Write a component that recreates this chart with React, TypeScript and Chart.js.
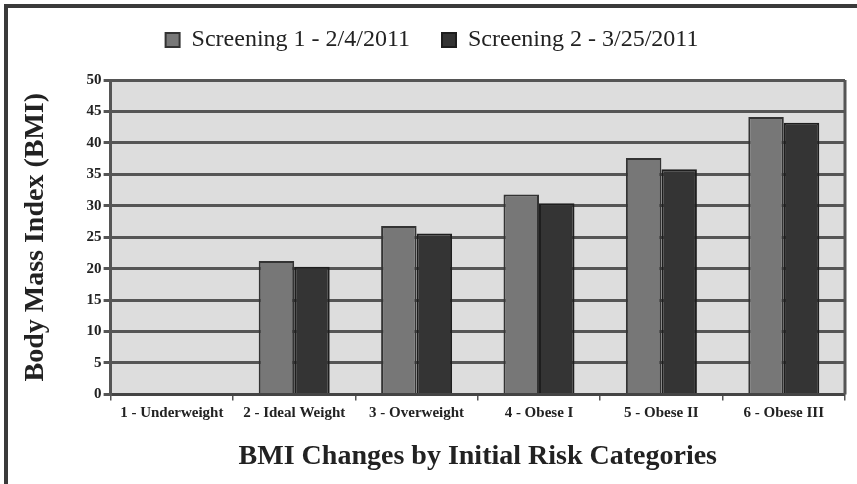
import React, { useEffect, useRef } from "react";
import { Chart, registerables } from "chart.js";

Chart.register(...registerables);

const categories = [
  "1 - Underweight",
  "2 - Ideal Weight",
  "3 - Overweight",
  "4 - Obese I",
  "5 - Obese II",
  "6 - Obese III",
];
const screening1 = [0, 21.2, 26.8, 31.8, 37.6, 44.1];
const screening2 = [0, 20.3, 25.6, 30.4, 35.8, 43.2];
const seriesNames = ["Screening 1 - 2/4/2011", "Screening 2 - 3/25/2011"];
const yTitle = "Body Mass Index (BMI)";
const xTitle = "BMI Changes by Initial Risk Categories";

const SERIF = '"Liberation Serif", "DejaVu Serif", serif';

const plotBg = {
  id: "plotBg",
  beforeDraw(chart: any) {
    const { ctx, chartArea } = chart;
    if (!chartArea) return;
    ctx.save();
    ctx.fillStyle = "#dddddd";
    ctx.fillRect(chartArea.left, chartArea.top, chartArea.right - chartArea.left, chartArea.bottom - chartArea.top);
    ctx.restore();
  },
  afterDraw(chart: any) {
    const { ctx, chartArea } = chart;
    ctx.save();
    ctx.strokeStyle = "#555";
    ctx.lineWidth = 3;
    ctx.beginPath();
    ctx.moveTo(chartArea.right, chartArea.top);
    ctx.lineTo(chartArea.right, chartArea.bottom);
    ctx.stroke();
    ctx.restore();
  },
};

const legendGap = {
  id: "legendGap",
  beforeInit(chart: any) {
    const orig = chart.legend.fit;
    chart.legend.fit = function () {
      orig.call(this);
      this.height += 14;
    };
  },
  afterLayout(chart: any) {
    chart.legend.top -= 4;
    chart.legend.bottom -= 4;
  },
};

export default function App() {
  const ref = useRef<HTMLCanvasElement | null>(null);
  useEffect(() => {
    if (!ref.current) return;
    const chart = new Chart(ref.current, {
      type: "bar",
      data: {
        labels: categories,
        datasets: [
          {
            label: seriesNames[0],
            data: screening1,
            backgroundColor: "#777777",
            borderColor: "#333333",
            borderWidth: 2,
          },
          {
            label: seriesNames[1],
            data: screening2,
            backgroundColor: "#343434",
            borderColor: "#1e1e1e",
            borderWidth: 2,
          },
        ],
      },
      plugins: [plotBg, legendGap],
      options: {
        animation: false,
        responsive: false,
        maintainAspectRatio: false,
        layout: { padding: { left: 19, right: 12, top: 0, bottom: 10 } },
        datasets: { bar: { barPercentage: 1, categoryPercentage: 0.58 } },
        plugins: {
          legend: {
            position: "top",
            labels: {
              color: "#222",
              font: { family: SERIF, size: 24 },
              boxWidth: 14,
              boxHeight: 14,
              padding: 32,
            },
          },
          tooltip: { enabled: false },
        },
        scales: {
          x: {
            grid: {
              offset: true,
              drawOnChartArea: false,
              drawTicks: true,
              tickLength: 6,
              color: "#555",
              lineWidth: 1.5,
            },
            border: { color: "#444", width: 3 },
            ticks: {
              color: "#222",
              font: { family: SERIF, size: 15, weight: "bold" },
              padding: 4,
              maxRotation: 0,
              autoSkip: false,
            },
            title: {
              display: true,
              text: xTitle,
              color: "#222",
              font: { family: SERIF, size: 28, weight: "bold" },
              padding: { top: 14, bottom: 0 },
            },
          },
          y: {
            min: 0,
            max: 50,
            ticks: {
              stepSize: 5,
              color: "#222",
              font: { family: SERIF, size: 15, weight: "bold" },
              padding: 2,
            },
            grid: {
              color: "#555",
              lineWidth: 3,
              tickLength: 7,
            },
            border: { color: "#555", width: 3 },
            title: {
              display: true,
              text: yTitle,
              color: "#222",
              font: { family: SERIF, size: 28, weight: "bold" },
              padding: { top: 0, bottom: 32 },
            },
          },
        },
      },
    });
    return () => chart.destroy();
  }, []);

  return (
    <div style={{ position: "absolute", left: 0, top: 0, width: 857, height: 484, background: "#fff" }}>
      <div
        style={{
          position: "absolute",
          left: 4,
          top: 4,
          width: 849,
          height: 476,
          borderTop: "4px solid #3a3a3a",
          borderLeft: "4px solid #3a3a3a",
          borderRight: "1px solid #e6e6e6",
          borderBottom: "1px solid #e6e6e6",
        }}
      />
      <canvas ref={ref} width={857} height={484} style={{ position: "absolute", left: 0, top: 0 }} />
    </div>
  );
}
